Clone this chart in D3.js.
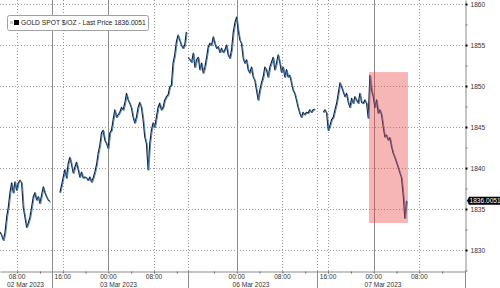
<!DOCTYPE html>
<html>
<head>
<meta charset="utf-8">
<script src="https://cdn.jsdelivr.net/npm/d3@7"></script>
<style>
  html, body { margin: 0; padding: 0; background: #fff; }
  svg { display: block; font-family: "Liberation Sans", Arial, sans-serif; }
</style>
</head>
<body>
<svg width="500" height="288"></svg>
<script>
// time is in trading minutes from 02 Mar 05:00, weekend squeezed out
// one print every 17.5 minutes inside each session
const step = 17.5;
const sessionStarts = [0, 630, 1980, 3400];

const session1 = [1832.2, 1831.8, 1831.2, 1832.1, 1834.0, 1835.2, 1837.0, 1838.2, 1837.0, 1838.3,
  1837.3, 1838.2, 1838.5, 1838.2, 1835.2, 1834.0, 1832.8, 1833.3, 1834.0, 1835.2,
  1836.5, 1837.0, 1836.1, 1836.5, 1835.7, 1836.7, 1837.7, 1837.0, 1836.5, 1836.1, 1835.9];

const session2 = [1837.0, 1837.9, 1838.9, 1839.8, 1838.8, 1840.6, 1841.3, 1840.4, 1839.4, 1840.1,
  1840.7, 1839.8, 1838.9, 1839.5, 1838.8, 1838.9, 1838.8, 1838.5, 1838.9, 1838.3,
  1838.8, 1839.5, 1840.4, 1841.8, 1842.8, 1844.3, 1844.6, 1843.4, 1843.0, 1842.4,
  1844.3, 1844.6, 1845.9, 1847.1, 1846.2, 1846.5, 1846.8, 1847.4, 1847.1, 1847.9,
  1849.1, 1848.3, 1847.9, 1847.3, 1846.2, 1845.5, 1846.2, 1847.4, 1848.0, 1847.4,
  1845.9, 1843.8, 1843.0, 1839.8, 1843.0, 1844.6, 1845.5, 1845.0, 1846.2, 1847.4,
  1847.9, 1847.1, 1847.4, 1848.3, 1848.7, 1848.9, 1849.9, 1850.1, 1852.8, 1853.8,
  1855.4, 1856.2, 1855.6, 1855.0, 1854.6, 1855.0, 1856.6];

const session3 = [1853.5, 1853.2, 1852.9, 1854.0, 1852.3, 1853.2, 1853.5, 1852.0, 1852.8, 1851.6,
  1852.3, 1853.5, 1854.8, 1855.2, 1855.0, 1856.0, 1855.2, 1854.6, 1854.8, 1854.1,
  1854.6, 1854.1, 1854.4, 1855.0, 1853.8, 1853.4, 1854.4, 1856.5, 1857.7, 1858.4,
  1856.8, 1855.6, 1855.2, 1853.4, 1852.8, 1853.2, 1852.0, 1851.6, 1852.3, 1851.1,
  1850.7, 1849.5, 1848.3, 1849.5, 1850.4, 1851.1, 1852.3, 1852.0, 1851.1, 1852.3,
  1852.9, 1853.5, 1852.0, 1852.8, 1853.8, 1852.9, 1851.7, 1852.3, 1851.1, 1852.0,
  1851.1, 1851.3, 1850.4, 1849.5, 1849.1, 1848.3, 1847.4, 1846.7, 1846.2, 1846.8,
  1846.5, 1846.8, 1846.7, 1847.1, 1846.8, 1847.1, 1847.2];

const session4 = [1846.8, 1847.1, 1846.7, 1844.6, 1845.2, 1845.9, 1846.2, 1847.1, 1847.9, 1849.1,
  1850.4, 1849.9, 1849.3, 1848.7, 1849.1, 1848.0, 1847.4, 1848.5, 1847.9, 1848.7,
  1848.3, 1847.9, 1849.1, 1848.0, 1847.9, 1848.3, 1847.9, 1846.1, 1851.3, 1849.5,
  1848.7, 1847.4, 1848.3, 1846.7, 1847.1, 1846.5, 1845.0, 1843.8, 1844.0, 1843.4,
  1843.7, 1842.6, 1841.8, 1841.3, 1840.7, 1840.1, 1839.4, 1838.8, 1836.7, 1833.9, 1836.0051];

const lastPrice = 1836.0051;
const seriesName = 'GOLD SPOT $/OZ - Last Price 1836.0051';

const priceTicks = [1830, 1835, 1840, 1845, 1850, 1855, 1860];
const timeTicks = [180, 660, 1140, 1620, 2490, 2970, 3450, 3930, 4410];
const timeLabels = ['08:00', '16:00', '00:00', '08:00', '00:00', '08:00', '16:00', '00:00', '08:00'];
const midnights = [1140, 2490, 3930];
const sessionBreaks = [547, 1977, 3330];
const dateLabels = ['02 Mar 2023', '03 Mar 2023', '06 Mar 2023', '07 Mar 2023'];
const dateLabelAt = [268, 1246, 2640, 4028];
const highlightTime = [3880, 4290];
const highlightPrice = [1833.3, 1851.7];

const svg = d3.select('svg');
const plotW = 465;
const plotH = 271;

const x = d3.scaleLinear().domain([0, 4890]).range([0, plotW]);
const y = d3.scaleLinear().domain([1827.44, 1860.49]).range([plotH, 0]);

// grid
const grid = svg.append('g');
grid.selectAll('.hg').data(priceTicks).join('line')
  .attr('x1', 0).attr('x2', plotW)
  .attr('y1', d => Math.round(y(d)) + 0.5).attr('y2', d => Math.round(y(d)) + 0.5)
  .attr('stroke', '#9a9a9a').attr('stroke-dasharray', '1,2');

const dotted = timeTicks.filter(t => !midnights.includes(t)).concat(sessionBreaks.slice(1));
grid.selectAll('.vg').data(dotted).join('line')
  .attr('x1', d => Math.round(x(d)) + 0.5).attr('x2', d => Math.round(x(d)) + 0.5)
  .attr('y1', 0).attr('y2', plotH)
  .attr('stroke', '#9a9a9a').attr('stroke-dasharray', '1,2');

grid.selectAll('.vs').data(midnights.concat(sessionBreaks.slice(0, 1))).join('line')
  .attr('x1', d => Math.round(x(d)) + 0.5).attr('x2', d => Math.round(x(d)) + 0.5)
  .attr('y1', 0).attr('y2', plotH)
  .attr('stroke', '#8c8c8c');

// price line, one path per session
const sessions = [session1, session2, session3, session4].map((vals, k) =>
  vals.map((p, i) => ({ t: sessionStarts[k] + i * step, p })));

const line = d3.line().x(d => x(d.t)).y(d => y(d.p));

svg.append('g').selectAll('path').data(sessions).join('path')
  .attr('d', line).attr('fill', 'none')
  .attr('stroke', '#141c2a').attr('stroke-width', 1.2).attr('stroke-linejoin', 'round');
svg.append('g').attr('transform', 'translate(0.8,0.7)')
  .selectAll('path').data(sessions).join('path')
  .attr('d', line).attr('fill', 'none')
  .attr('stroke', '#3f7bbb').attr('stroke-width', 0.9);

// highlight box
svg.append('rect')
  .attr('x', x(highlightTime[0])).attr('width', x(highlightTime[1]) - x(highlightTime[0]))
  .attr('y', y(highlightPrice[1])).attr('height', y(highlightPrice[0]) - y(highlightPrice[1]))
  .attr('fill', 'rgb(232,62,62)').attr('fill-opacity', 0.38);

// y axis on the right
const minorPrices = priceTicks.map(d => d - 2.5);
const yMinor = svg.append('g').attr('transform', `translate(${plotW + 0.5},0)`)
  .call(d3.axisRight(y).tickValues(minorPrices).tickSize(2).tickSizeOuter(0).tickFormat(''));
yMinor.select('.domain').attr('stroke', '#8c8c8c');
yMinor.selectAll('.tick line').attr('stroke', '#777');

const yAxis = svg.append('g').attr('transform', `translate(${plotW + 0.5},0)`)
  .call(d3.axisRight(y).tickValues(priceTicks).tickSize(2).tickPadding(3).tickSizeOuter(0)
    .tickFormat(d3.format('d')));
yAxis.select('.domain').remove();
yAxis.selectAll('.tick line').attr('stroke', '#000').attr('stroke-width', 2);
yAxis.selectAll('.tick text').attr('font-size', '6.6px').attr('fill', '#333')
  .attr('font-family', '"Liberation Sans", Arial, sans-serif');

// x axis
const minorTimes = d3.range(180, 1861, 240).concat(d3.range(2250, 4651, 240));
const xAxis = svg.append('g').attr('transform', `translate(0,${plotH + 0.5})`)
  .call(d3.axisBottom(x).tickValues(minorTimes).tickSize(2).tickSizeOuter(0).tickFormat(''));
xAxis.select('.domain').attr('stroke', '#8c8c8c');
xAxis.selectAll('.tick line').attr('stroke', '#666');

svg.append('g').selectAll('line').data(sessionBreaks).join('line')
  .attr('x1', d => Math.round(x(d)) + 0.5).attr('x2', d => Math.round(x(d)) + 0.5)
  .attr('y1', plotH).attr('y2', 288).attr('stroke', '#8c8c8c');
svg.append('line').attr('x1', plotW + 0.5).attr('x2', plotW + 0.5)
  .attr('y1', plotH).attr('y2', 288).attr('stroke', '#8c8c8c');

svg.append('g').selectAll('text').data(timeTicks).join('text')
  .attr('x', d => x(d)).attr('y', 278.5)
  .attr('text-anchor', 'middle').attr('font-size', '6.6px').attr('fill', '#333')
  .text((d, i) => timeLabels[i]);

svg.append('g').selectAll('text').data(dateLabels).join('text')
  .attr('x', (d, i) => x(dateLabelAt[i])).attr('y', 286.8)
  .attr('text-anchor', 'middle').attr('font-size', '6.6px').attr('fill', '#333')
  .text(d => d);

// last price tag
const ly = y(lastPrice);
svg.append('path')
  .attr('d', `M${plotW + 2},${ly} L${plotW + 4},${ly - 4} L500,${ly - 4} L500,${ly + 4} L${plotW + 4},${ly + 4} Z`)
  .attr('fill', '#000');
svg.append('text').attr('x', plotW + 4.5).attr('y', ly + 2.4)
  .attr('font-size', '6.6px').attr('fill', '#fff').text(d3.format('.4f')(lastPrice));

// legend
const legend = svg.append('g');
legend.append('rect').attr('x', 7.5).attr('y', 15.5).attr('width', 141).attr('height', 15)
  .attr('rx', 2).attr('fill', '#fff').attr('stroke', '#a0a0a0');
legend.append('rect').attr('x', 10).attr('y', 21).attr('width', 3).attr('height', 3)
  .attr('fill', '#ccc');
legend.append('rect').attr('x', 14).attr('y', 20).attr('width', 5).attr('height', 5)
  .attr('fill', '#000');
legend.append('text').attr('x', 21).attr('y', 25.4)
  .attr('font-size', '6.7px').attr('fill', '#222').text(seriesName);
</script>
</body>
</html>
